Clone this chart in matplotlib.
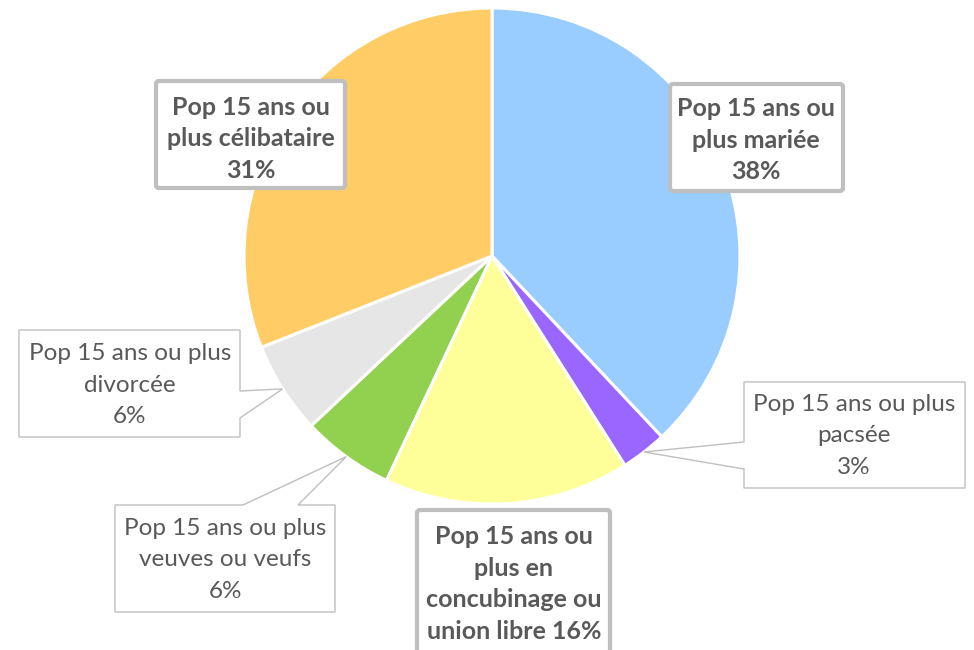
import matplotlib.pyplot as plt
from matplotlib.patches import Polygon, FancyBboxPatch
import numpy as np

# Data
categories = [
    "Pop 15 ans ou\nplus mariée",
    "Pop 15 ans ou plus\npacsée",
    "Pop 15 ans ou\nplus en\nconcubinage ou\nunion libre",
    "Pop 15 ans ou plus\nveuves ou veufs",
    "Pop 15 ans ou plus\ndivorcée",
    "Pop 15 ans ou\nplus célibataire",
]
values = [38, 3, 16, 6, 6, 31]
colors = ["#99CCFF", "#9966FF", "#FFFF99", "#92D050", "#E7E6E6", "#FFCC66"]
bold_label = [True, False, True, False, False, True]

W, H = 974, 650
TEXT_COLOR = "#595959"
BORDER = "#BFBFBF"


def py(y):
    # pixel row (from the top) to data y (from the bottom)
    return H - y


fig = plt.figure(figsize=(9.74, 6.5), dpi=100)
ax = fig.add_axes([0, 0, 1, 1])
ax.set_xlim(0, W)
ax.set_ylim(0, H)
ax.set_aspect("equal")
ax.axis("off")

center = (492, py(256))
radius = 248
wedges, _ = ax.pie(values, colors=colors, startangle=90, counterclock=False,
                   center=center, radius=radius,
                   wedgeprops=dict(edgecolor="white", linewidth=2.2))
ax.set_xlim(0, W)
ax.set_ylim(0, H)

# Label layout: text centre and box (left, top, right, bottom) in pixels;
# plain labels also say which side the pointer leaves from
layout = [
    dict(text=(756, 140), box=(670, 84, 843, 191)),
    dict(text=(854, 436), box=(744, 382, 965, 488), side="left", base=(442, 469)),
    dict(text=(514, 584), box=(417, 510, 610, 668)),
    dict(text=(225, 560), box=(115, 505, 335, 612), side="top", base=(243, 298)),
    dict(text=(130, 385), box=(19, 330, 240, 437), side="right", base=(391, 418)),
    dict(text=(251, 139), box=(156, 81, 345, 188)),
]

for w, lab, v, bold, lay in zip(wedges, categories, values, bold_label, layout):
    x0, y0, x1, y1 = lay["box"]
    if bold:
        txt = lab + " " + str(v) + "%" if "libre" in lab else lab + "\n" + str(v) + "%"
        box = FancyBboxPatch((x0, py(y1)), x1 - x0, y1 - y0,
                             boxstyle="round,pad=0,rounding_size=3",
                             facecolor="white", edgecolor=BORDER,
                             linewidth=3, zorder=3)
        ax.add_patch(box)
        ax.text(lay["text"][0], py(lay["text"][1]), txt, ha="center",
                va="center", fontsize=18, fontweight="bold",
                color=TEXT_COLOR, family="Lato", linespacing=1.44, zorder=4)
    else:
        txt = lab + "\n" + str(v) + "%"
        # pointer tip on the pie edge at the middle angle of the wedge
        mid = np.deg2rad((w.theta1 + w.theta2) / 2)
        tip = (w.center[0] + w.r * np.cos(mid), w.center[1] + w.r * np.sin(mid))
        b0, b1 = lay["base"]
        if lay["side"] == "left":
            pts = [(x0, y0), (x1, y0), (x1, y1), (x0, y1), (x0, b1), None, (x0, b0)]
        elif lay["side"] == "right":
            pts = [(x0, y0), (x1, y0), (x1, b0), None, (x1, b1), (x1, y1), (x0, y1)]
        else:
            pts = [(x0, y0), (b0, y0), None, (b1, y0), (x1, y0), (x1, y1), (x0, y1)]
        poly = [tip if p is None else (p[0], py(p[1])) for p in pts]
        ax.add_patch(Polygon(poly, closed=True, facecolor="white",
                             edgecolor=BORDER, linewidth=1.0, zorder=3))
        ax.text(lay["text"][0], py(lay["text"][1]), txt, ha="center",
                va="center", fontsize=17.5, color=TEXT_COLOR, family="Lato",
                linespacing=1.62, zorder=4)

fig.savefig("out.png", dpi=100, facecolor="white")
